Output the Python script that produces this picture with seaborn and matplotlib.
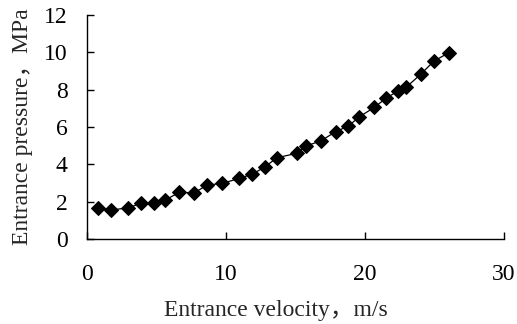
import matplotlib
matplotlib.use("Agg")
import matplotlib.pyplot as plt
import seaborn as sns
import pandas as pd

velocity = [0.81, 1.73, 2.97, 3.88, 4.82, 5.63, 6.64, 7.72, 8.66, 9.73, 10.96, 11.9,
            12.83, 13.64, 15.08, 15.73, 16.81, 17.89, 18.8, 19.6, 20.67, 21.49, 22.4,
            22.95, 24.03, 24.96, 26.04]
pressure = [1.68, 1.55, 1.68, 1.91, 1.91, 2.09, 2.50, 2.48, 2.89, 2.98, 3.25, 3.48,
            3.87, 4.35, 4.59, 4.98, 5.25, 5.75, 6.05, 6.55, 7.05, 7.53, 7.94,
            8.12, 8.84, 9.53, 9.98]
x_ticks = [0, 10, 20, 30]
y_ticks = [0, 2, 4, 6, 8, 10, 12]

sns.set_style("white")
fam = ['Liberation Serif', 'Noto Sans CJK SC']
plt.rcParams['font.family'] = fam

df = pd.DataFrame({"v": velocity, "p": pressure})
fig = plt.figure(figsize=(5.17, 3.24), dpi=100)
ax = fig.add_axes([0.168, 0.262, 0.807, 0.692])
sns.lineplot(data=df, x="v", y="p", ax=ax, color="black", linewidth=0.9,
             marker="D", markersize=7, markeredgecolor="black", markerfacecolor="black")
ax.set_xlim(0, 30)
ax.set_ylim(0, 12)
ax.set_xticks(x_ticks)
ax.set_yticks(y_ticks)
for s in ["top", "right"]:
    ax.spines[s].set_visible(False)
for s in ["left", "bottom"]:
    ax.spines[s].set_color("black")
    ax.spines[s].set_linewidth(1.0)
ax.tick_params(axis="both", direction="in", length=5, width=1, color="black",
               labelsize=17, labelcolor="black", left=True, bottom=True)
ax.tick_params(axis="x", pad=18)
ax.tick_params(axis="y", pad=14)
ax.set_xlabel("Entrance velocity，m/s", fontsize=17, family=fam)
ax.set_ylabel("Entrance pressure，MPa", fontsize=17, family=fam, labelpad=8)
ax.xaxis.set_label_coords(0.453, -0.27)
fig.savefig("out.png", dpi=100)
